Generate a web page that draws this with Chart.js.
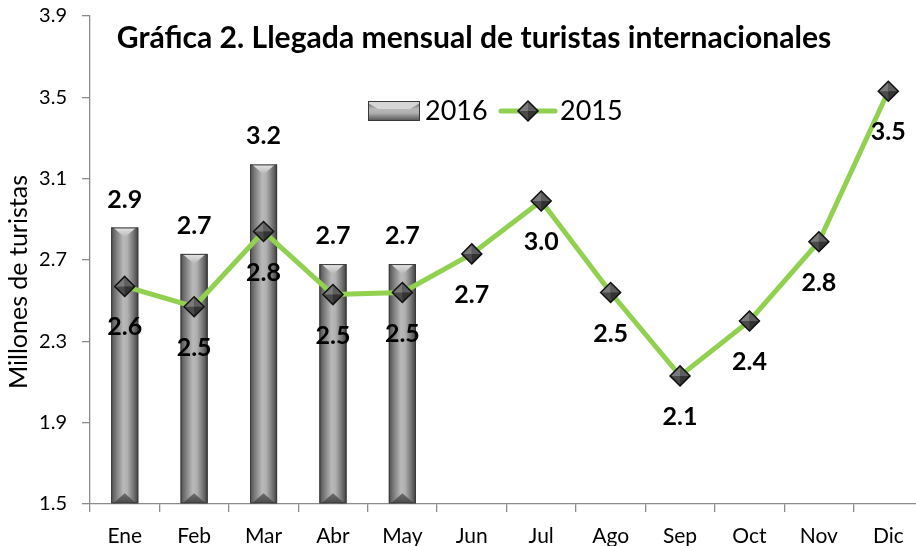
<!DOCTYPE html>
<html>
<head>
<meta charset="utf-8">
<script src="https://cdn.jsdelivr.net/npm/chart.js@4.4.1/dist/chart.umd.min.js"></script>
<style>
  html, body { margin: 0; padding: 0; background: #ffffff; overflow: hidden; }
  #wrap { width: 924px; height: 546px; }
</style>
</head>
<body>
<div id="wrap"><canvas id="c" width="924" height="546"></canvas></div>
<script>
// ---- data ----
const months = ['Ene', 'Feb', 'Mar', 'Abr', 'May', 'Jun', 'Jul', 'Ago', 'Sep', 'Oct', 'Nov', 'Dic'];
const values2016 = [2.86, 2.73, 3.17, 2.68, 2.68, null, null, null, null, null, null, null];
const values2015 = [2.57, 2.47, 2.84, 2.53, 2.54, 2.73, 2.99, 2.54, 2.13, 2.40, 2.79, 3.53];
const yTicks = [1.5, 1.9, 2.3, 2.7, 3.1, 3.5, 3.9];
const seriesNames = ['2016', '2015'];
const titleText = 'Gráfica 2. Llegada mensual de turistas internacionales';
const yTitle = 'Millones de turistas';

const FONT = 'Lato, "Open Sans", sans-serif';
const GREEN = '#92D050';
const AXIS = '#8c8c8c';

function barGradient(ctx2d, l, r) {
  const g = ctx2d.createLinearGradient(l, 0, r, 0);
  g.addColorStop(0, '#4e4e4e');
  g.addColorStop(0.18, '#7c7c7c');
  g.addColorStop(0.45, '#b9b9b9');
  g.addColorStop(0.6, '#b0b0b0');
  g.addColorStop(0.85, '#6e6e6e');
  g.addColorStop(1, '#3e3e3e');
  return g;
}

function drawDiamond(ctx, x, y, r) {
  ctx.save();
  ctx.fillStyle = '#4a4a4a';
  ctx.beginPath(); ctx.moveTo(x, y - r); ctx.lineTo(x + r, y); ctx.lineTo(x, y + r); ctx.lineTo(x - r, y); ctx.closePath();
  ctx.fill();
  ctx.fillStyle = '#7a7a7a';
  ctx.beginPath(); ctx.moveTo(x, y - r); ctx.lineTo(x - r, y); ctx.lineTo(x, y); ctx.closePath(); ctx.fill();
  ctx.fillStyle = '#5e5e5e';
  ctx.beginPath(); ctx.moveTo(x, y - r); ctx.lineTo(x + r, y); ctx.lineTo(x, y); ctx.closePath(); ctx.fill();
  ctx.fillStyle = '#333333';
  ctx.beginPath(); ctx.moveTo(x, y + r); ctx.lineTo(x + r, y); ctx.lineTo(x, y); ctx.closePath(); ctx.fill();
  ctx.strokeStyle = '#111'; ctx.lineWidth = 1.5;
  ctx.beginPath(); ctx.moveTo(x, y - r); ctx.lineTo(x + r, y); ctx.lineTo(x, y + r); ctx.lineTo(x - r, y); ctx.closePath();
  ctx.stroke();
  ctx.restore();
}

const decoPlugin = {
  id: 'deco',
  afterDatasetDraw(chart, args) {
    const ctx = chart.ctx;
    if (args.index === 1) {
      chart.getDatasetMeta(1).data.forEach((pt) => {
        if (Number.isFinite(pt.x) && Number.isFinite(pt.y)) drawDiamond(ctx, pt.x, pt.y, 10);
      });
      return;
    }
    if (args.index !== 0) return;
    const meta = chart.getDatasetMeta(0);
    ctx.save();
    meta.data.forEach((bar, i) => {
      if (values2016[i] == null) return;
      const p = bar.getProps(['x', 'y', 'base', 'width'], true);
      if (![p.x, p.y, p.base, p.width].every(Number.isFinite)) return;
      const l = p.x - p.width / 2, r = p.x + p.width / 2, h = p.width / 2;
      ctx.fillStyle = barGradient(ctx, l, r);
      ctx.fillRect(l, p.y, p.width, p.base - p.y);
      let g = ctx.createLinearGradient(0, p.y, 0, p.y + h);
      g.addColorStop(0, '#e6e6e6');
      g.addColorStop(1, '#a4a4a4');
      ctx.fillStyle = g;
      ctx.beginPath();
      ctx.moveTo(l + 2, p.y);
      ctx.lineTo(r - 2, p.y);
      ctx.lineTo(p.x, p.y + h * 0.75);
      ctx.closePath();
      ctx.fill();
      g = ctx.createLinearGradient(0, p.base - h, 0, p.base);
      g.addColorStop(0, '#7a7a7a');
      g.addColorStop(1, '#4a4a4a');
      ctx.fillStyle = g;
      ctx.beginPath();
      ctx.moveTo(l + 2, p.base);
      ctx.lineTo(r - 2, p.base);
      ctx.lineTo(p.x, p.base - h * 0.75);
      ctx.closePath();
      ctx.fill();
      ctx.strokeStyle = '#3a3a3a';
      ctx.lineWidth = 1;
      ctx.strokeRect(l + 0.5, p.y + 0.5, p.width - 1, p.base - p.y - 1);
    });
    ctx.restore();
  },
  afterDatasetsDraw(chart) {
    const ctx = chart.ctx;
    ctx.save();
    ctx.fillStyle = '#000';
    ctx.font = 'bold 25px ' + FONT;
    ctx.textAlign = 'center';
    ctx.textBaseline = 'middle';
    const barMeta = chart.getDatasetMeta(0);
    barMeta.data.forEach((bar, i) => {
      if (values2016[i] == null) return;
      ctx.fillText(values2016[i].toFixed(1), bar.x, bar.y - 28);
    });
    const lineMeta = chart.getDatasetMeta(1);
    lineMeta.data.forEach((pt, i) => {
      ctx.fillText(values2015[i].toFixed(1), pt.x, pt.y + 41);
    });

    // title
    ctx.font = 'bold 25px ' + FONT;
    const tw = ctx.measureText(titleText).width;
    const fs = 25 * 714 / tw;
    ctx.font = 'bold ' + fs.toFixed(1) + 'px ' + FONT;
    ctx.fillText(titleText, 474, 38);

    // y-axis title
    ctx.save();
    ctx.translate(19, 282);
    ctx.rotate(-Math.PI / 2);
    ctx.font = '25px ' + FONT;
    ctx.fillText(yTitle, 0, 0);
    ctx.restore();

    // legend
    const sx = 368, sy = 101, sw = 52, sh = 20;
    let g = ctx.createLinearGradient(0, sy, 0, sy + sh);
    g.addColorStop(0, '#5a5a5a');
    g.addColorStop(0.4, '#b8b8b8');
    g.addColorStop(0.6, '#b0b0b0');
    g.addColorStop(1, '#505050');
    ctx.fillStyle = g;
    ctx.fillRect(sx, sy, sw, sh);
    ctx.fillStyle = '#d6d6d6';
    ctx.beginPath();
    ctx.moveTo(sx, sy + 2); ctx.lineTo(sx + 10, sy + 8); ctx.lineTo(sx + sw - 10, sy + 8); ctx.lineTo(sx + sw, sy + 2); ctx.lineTo(sx + sw, sy); ctx.lineTo(sx, sy);
    ctx.closePath(); ctx.fill();
    ctx.strokeStyle = '#3a3a3a'; ctx.lineWidth = 1;
    ctx.strokeRect(sx + 0.5, sy + 0.5, sw - 1, sh - 1);

    ctx.fillStyle = '#000';
    ctx.font = '27px ' + FONT;
    ctx.textAlign = 'left';
    ctx.fillText(seriesNames[0], 425, 111);

    ctx.strokeStyle = GREEN; ctx.lineWidth = 5; ctx.lineCap = 'round';
    ctx.beginPath(); ctx.moveTo(501, 111); ctx.lineTo(555, 111); ctx.stroke();
    drawDiamond(ctx, 528, 111, 10);
    ctx.fillStyle = '#000';
    ctx.fillText(seriesNames[1], 560, 111);
    ctx.restore();
  }
};

new Chart(document.getElementById('c'), {
  data: {
    labels: months,
    datasets: [
      {
        type: 'bar',
        label: seriesNames[0],
        data: values2016,
        base: yTicks[0],
        order: 2,
        categoryPercentage: 1,
        barPercentage: 0.39,
        backgroundColor: '#999999',
        borderWidth: 0
      },
      {
        type: 'line',
        label: seriesNames[1],
        data: values2015,
        order: 1,
        borderColor: GREEN,
        borderWidth: 5,
        tension: 0,
        pointStyle: 'rectRot',
        pointRadius: 0,
        pointHoverRadius: 0
      }
    ]
  },
  options: {
    responsive: false,
    animation: false,
    layout: { padding: { top: 16, right: 1, left: 0, bottom: 0 } },
    plugins: { legend: { display: false }, title: { display: false }, tooltip: { enabled: false } },
    scales: {
      x: {
        offset: true,
        grid: { offset: true, drawOnChartArea: false, drawTicks: true, tickLength: 8, color: AXIS, lineWidth: 1.3 },
        border: { display: true, color: AXIS, width: 1.3 },
        ticks: { color: '#000', font: { family: FONT, size: 21 }, padding: 12, maxRotation: 0 },
        afterFit: (s) => { s.height = 42; s.paddingLeft = 0; s.paddingRight = 0; }
      },
      y: {
        min: 1.5,
        max: 3.9,
        afterBuildTicks: (s) => { s.ticks = yTicks.map(v => ({ value: v })); },
        grid: { drawOnChartArea: false, drawTicks: true, tickLength: 8, color: AXIS, lineWidth: 1.3 },
        border: { display: true, color: AXIS, width: 1.3 },
        ticks: { color: '#000', font: { family: FONT, size: 20 }, padding: 15, callback: (v) => Number(v).toFixed(1) },
        title: { display: false },
        afterFit: (s) => { s.width = 90; s.paddingTop = 0; s.paddingBottom = 0; }
      }
    }
  },
  plugins: [decoPlugin]
});
</script>
</body>
</html>
